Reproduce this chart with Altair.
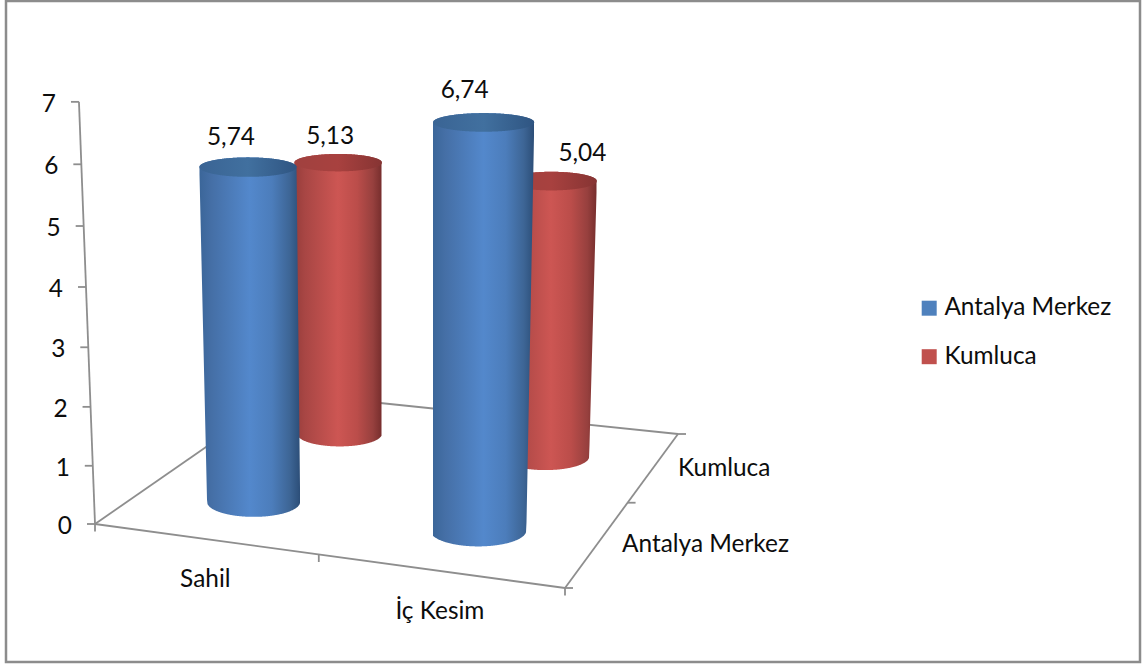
import altair as alt
import numpy as np
import pandas as pd

# Chart values
categories = ["Sahil", "İç Kesim"]
series = ["Antalya Merkez", "Kumluca"]
values = {
    "Antalya Merkez": [5.74, 6.74],
    "Kumluca": [5.13, 5.04],
}
value_ticks = [0, 1, 2, 3, 4, 5, 6, 7]

# Offsets of the value captions from the top of each cylinder
caption_offsets = {
    ("Antalya Merkez", 0): (-17, -29),
    ("Antalya Merkez", 1): (-19, -31),
    ("Kumluca", 0): (-8, -26),
    ("Kumluca", 1): (31, -27),
}

W, H = 1142, 664
FONT = "Lato"
TEXT_SIZE = 24.4
AXIS_GREY = "#8e8e8e"

# Floor plane: corners in screen space, front-left, front-right, back-right, back-left
floor_src = [(0, 0), (1, 0), (1, 1), (0, 1)]
floor_dst = [(95, 524), (565, 588), (678, 434), (284, 393)]


def solve_homography(src, dst):
    rows, rhs = [], []
    for (a, b), (x, y) in zip(src, dst):
        rows.append([a, b, 1, 0, 0, 0, -a * x, -b * x])
        rows.append([0, 0, 0, a, b, 1, -a * y, -b * y])
        rhs += [x, y]
    return np.append(np.linalg.solve(np.array(rows, float), np.array(rhs, float)), 1).reshape(3, 3)


HOMOGRAPHY = solve_homography(floor_src, floor_dst)


def floor_point(u, w):
    p = HOMOGRAPHY @ np.array([u, w, 1.0])
    return p[0] / p[2], p[1] / p[2]


def rise(u, w, v):
    """Screen height of value v standing on floor position (u, w)."""
    k = 57.9 + 3.6 * u - 10.2 * w
    return k * v / (1 - 0.0057 * v), k


def lean(x, h):
    """Verticals converge slightly towards a vanishing point far below the chart."""
    return x + (x - 380) * h / 7500


def ellipse_ratio(y):
    return 0.185 + 0.00036 * (y - 124)


def polygon_span(points, xs):
    """Upper and lower edge of a convex outline at each x."""
    pts = np.array(points)
    closed = np.vstack([pts, pts[0]])
    upper = np.full_like(xs, np.inf, dtype=float)
    lower = np.full_like(xs, -np.inf, dtype=float)
    for (x0, y0), (x1, y1) in zip(closed[:-1], closed[1:]):
        lo, hi = min(x0, x1), max(x0, x1)
        if hi == lo:
            continue
        mask = (xs >= lo) & (xs <= hi)
        ys = y0 + (xs[mask] - x0) * (y1 - y0) / (x1 - x0)
        upper[mask] = np.minimum(upper[mask], ys)
        lower[mask] = np.maximum(lower[mask], ys)
    return upper, lower


def cylinder(name, cat_index):
    u = 0.255 + 0.5 * cat_index
    w = 0.235 + 0.5 * series.index(name)
    v = values[name][cat_index]
    bx, by = floor_point(u, w)
    h, k = rise(u, w, v)
    tx, ty = lean(bx, h), by - h
    brx = 0.825 * k
    trx = brx * (1 + h / 7500)
    bry = brx * ellipse_ratio(by)
    try_ = trx * ellipse_ratio(ty)

    t = np.linspace(0, 2 * np.pi, 181)[:-1]
    top_pts = np.column_stack([tx + trx * np.cos(t), ty + try_ * np.sin(t)])
    base_pts = np.column_stack([bx + brx * np.cos(t), by + bry * np.sin(t)])
    # Body outline: top half of the upper ellipse plus lower half of the base ellipse
    outline = [tuple(p) for p in top_pts[90:]] + [tuple(p) for p in base_pts[:91]]
    xs = np.arange(np.floor(tx - trx), np.ceil(max(tx + trx, bx + brx)) + 0.5, 0.5)
    xs = xs[(xs >= min(tx - trx, bx - brx)) & (xs <= max(tx + trx, bx + brx))]
    upper, lower = polygon_span(outline + [outline[0]], xs)
    keep = np.isfinite(upper) & np.isfinite(lower)
    body = pd.DataFrame({"x": xs[keep], "y": lower[keep], "y2": upper[keep]})

    ex = np.linspace(tx - trx, tx + trx, 201)
    dy = try_ * np.sqrt(np.clip(1 - ((ex - tx) / trx) ** 2, 0, 1))
    cap = pd.DataFrame({"x": ex, "y": ty + dy, "y2": ty - dy})
    dx, dy_cap = caption_offsets[(name, cat_index)]
    caption = {"x": tx + dx, "y": ty + dy_cap, "text": f"{v:.2f}".replace(".", ",")}
    return body, cap, caption


def x_gradient(stops):
    return alt.Gradient(
        gradient="linear", x1=0, x2=1, y1=0, y2=0,
        stops=[alt.GradientStop(offset=o, color=c) for o, c in stops],
    )


body_stops = {
    "Antalya Merkez": [(0, "#3b6699"), (0.12, "#456fa6"), (0.5, "#5388cc"),
                       (0.72, "#4c7dbb"), (0.9, "#3d6595"), (1, "#2c4e78")],
    "Kumluca": [(0, "#973d3b"), (0.12, "#a84644"), (0.5, "#cd5653"),
                (0.72, "#bb4d4a"), (0.9, "#97403e"), (1, "#772e2d")],
}
cap_stops = {
    "Antalya Merkez": [(0, "#3a6494"), (0.5, "#41709f"), (1, "#2f5582")],
    "Kumluca": [(0, "#a0413f"), (0.5, "#a8413f"), (1, "#863433")],
}

x_scale = alt.Scale(domain=[0, W], range=[0, W], nice=False, zero=False)
y_scale = alt.Scale(domain=[0, H], range=[0, H], nice=False, zero=False)
X = alt.X("x:Q", scale=x_scale, axis=None)
Y = alt.Y("y:Q", scale=y_scale, axis=None)

# Outer frame
frame = alt.Chart(pd.DataFrame({"x": [6], "x2": [1140], "y": [1], "y2": [662]})).mark_rect(
    fill="white", stroke="#8c8c8c", strokeWidth=2.5
).encode(X, Y, x2="x2:Q", y2="y2:Q")

# Axis lines and tick marks, all derived from the floor and value projection
segments = []


def add_segment(p, q):
    segments.append({"x": p[0], "y": p[1], "x2": q[0], "y2": q[1]})


fl, fr, br, bl = [floor_point(*c) for c in floor_src]
add_segment(fl, fr)
add_segment(fr, br)
add_segment(br, bl)
add_segment(bl, fl)

tick_labels = []
for v in value_ticks:
    h, _ = rise(0, 0, v)
    px, py = lean(fl[0], h), fl[1] - h
    tick_labels.append({"x": px - 23, "y": py + 3, "text": str(v)})
    add_segment((px - 8, py), (px, py))
add_segment(fl, (lean(fl[0], rise(0, 0, 7)[0]), fl[1] - rise(0, 0, 7)[0]))

for u in (0, 0.5, 1):
    p = floor_point(u, 0)
    add_segment(p, (p[0], p[1] + 7.5))
for w in (0, 0.5, 1):
    p = floor_point(1, w)
    add_segment(p, (p[0] + 8, p[1]))

lines = alt.Chart(pd.DataFrame(segments)).mark_rule(color=AXIS_GREY, strokeWidth=1.8).encode(
    X, Y, x2="x2:Q", y2="y2:Q"
)

# Category and series captions on the floor edges
floor_captions = []
for i, name in enumerate(categories):
    p = floor_point(0.25 + 0.5 * i, 0)
    floor_captions.append({"x": p[0] + 1, "y": p[1] + 41, "text": name})
series_captions = []
for i, name in enumerate(series):
    p = floor_point(1, 0.25 + 0.5 * i)
    series_captions.append({"x": p[0] + 24, "y": p[1] + 2, "text": name})


def text_layer(rows, align):
    return alt.Chart(pd.DataFrame(rows)).mark_text(
        align=align, baseline="middle", font=FONT, fontSize=TEXT_SIZE, color="#0d0d0d"
    ).encode(X, Y, text="text:N")


# Series swatches for the legend sit behind the cylinders at their floor positions
legend_rows = []
for i, name in enumerate(series):
    p = floor_point(0.25, 0.25 + 0.5 * i)
    legend_rows.append({"x": p[0], "y": p[1] - 60, "series": name})
legend_layer = alt.Chart(pd.DataFrame(legend_rows)).mark_square(size=4, opacity=1).encode(
    X, Y,
    color=alt.Color(
        "series:N",
        scale=alt.Scale(domain=series, range=["#4f81bd", "#c0504d"]),
        legend=alt.Legend(
            title=None, orient="none", legendX=917, legendY=296,
            symbolType="square", symbolSize=225, symbolStrokeWidth=0,
            labelFont=FONT, labelFontSize=TEXT_SIZE, labelColor="#0d0d0d",
            labelLimit=300, rowPadding=23.5, labelOffset=3, symbolOpacity=1,
        ),
    ),
)

layers = [frame, lines, legend_layer]
captions = []
for name in reversed(series):
    for cat_index in range(len(categories)):
        body, cap, caption = cylinder(name, cat_index)
        layers.append(
            alt.Chart(body).mark_area(color=x_gradient(body_stops[name]), interpolate="linear").encode(
                X, Y, y2="y2:Q"
            )
        )
        layers.append(
            alt.Chart(cap).mark_area(color=x_gradient(cap_stops[name]), interpolate="linear").encode(
                X, Y, y2="y2:Q"
            )
        )
        captions.append(caption)

layers += [
    text_layer(tick_labels, "right"),
    text_layer(floor_captions, "center"),
    text_layer(series_captions, "left"),
    text_layer(captions, "center"),
]

chart = (
    alt.layer(*layers)
    .properties(width=W, height=H, padding=0, autosize=alt.AutoSizeParams(type="none"), background="white")
    .configure_view(stroke=None)
)

chart.save("out.html", embed_options={"renderer": "svg", "actions": False})
